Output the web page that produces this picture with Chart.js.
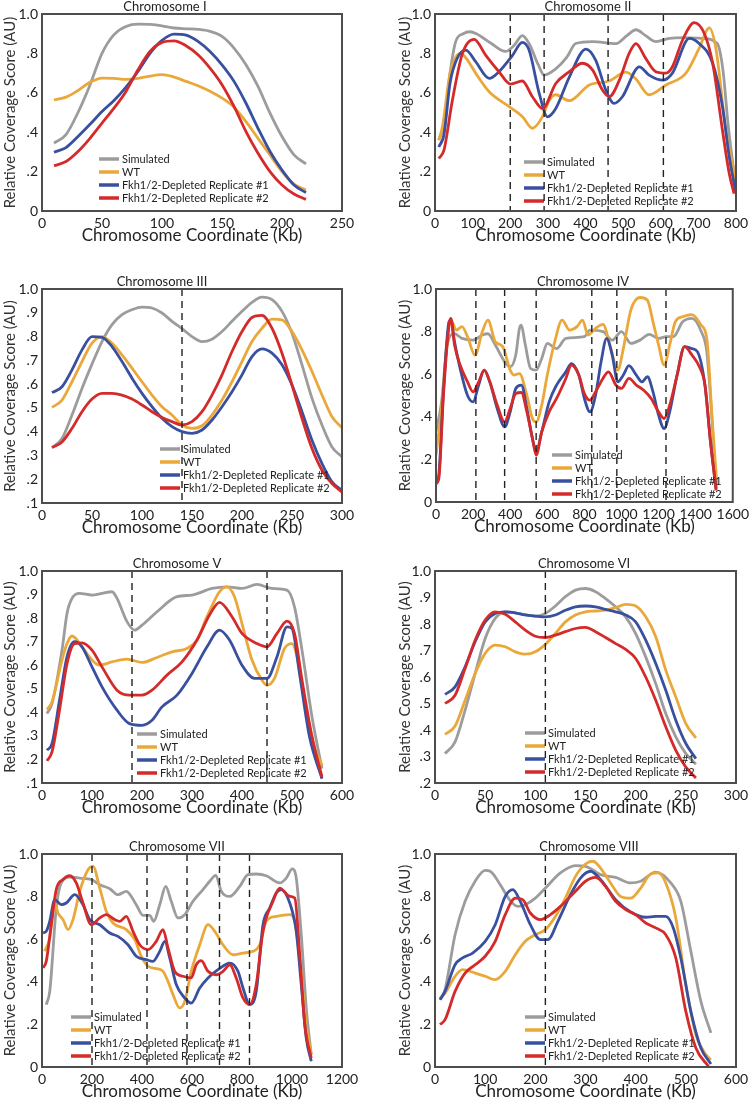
<!DOCTYPE html>
<html>
<head>
<meta charset="utf-8">
<script src="https://cdn.jsdelivr.net/npm/chart.js@4.4.1/dist/chart.umd.min.js"></script>
<style>
  body { margin: 0; background: #fff; width: 753px; height: 1101px; position: relative; overflow: hidden; }
  canvas { position: absolute; }
</style>
</head>
<body>
<script>
const seriesNames = ["Simulated", "WT", "Fkh1/2-Depleted Replicate #1", "Fkh1/2-Depleted Replicate #2"];
const seriesColors = ["#9c9c9c", "#eaa83a", "#38509f", "#d52a2a"];

// Chromosome I (10 kb bins)
const chr1Kb = [10,20,30,40,50,60,70,80,90,100,110,120,130,140,150,160,170,180,190,200,210,220];
const chr1Sim = [.344,.388,.50,.64,.80,.895,.937,.949,.947,.94,.929,.925,.922,.912,.886,.827,.742,.632,.497,.378,.285,.239];
const chr1WT = [.564,.578,.612,.653,.675,.673,.668,.673,.685,.692,.68,.658,.636,.608,.573,.527,.454,.369,.285,.20,.137,.107];
const chr1Rep1 = [.298,.322,.378,.44,.505,.561,.629,.708,.80,.866,.898,.893,.861,.81,.742,.658,.547,.42,.302,.208,.132,.093];
const chr1Rep2 = [.23,.251,.302,.369,.446,.522,.607,.717,.81,.856,.864,.839,.793,.725,.641,.531,.403,.293,.20,.132,.086,.059];
const chr1Dash = [];

// Chromosome II ([kb, score])
const chr2Sim = [[10,.36],[25,.45],[40,.70],[55,.86],[75,.90],[92,.91],[110,.90],[150,.85],[188,.81],[210,.84],[232,.89],[250,.85],[275,.74],[290,.69],[320,.72],[350,.78],[374,.85],[419,.86],[481,.85],[510,.89],[534,.92],[560,.89],[587,.86],[623,.876],[660,.88],[711,.876],[750,.85],[765,.72],[780,.42],[800,.12]];
const chr2WT = [[10,.36],[20,.43],[40,.70],[55,.78],[68,.80],[85,.77],[108,.70],[144,.605],[197,.53],[232,.48],[259,.42],[286,.48],[303,.56],[321,.59],[357,.56],[410,.64],[463,.66],[507,.705],[534,.67],[569,.59],[614,.64],[667,.70],[702,.825],[729,.93],[747,.82],[773,.41],[800,.156]];
const chr2Rep1 = [[10,.325],[24,.39],[40,.65],[59,.775],[82,.817],[108,.758],[144,.673],[170,.707],[206,.79],[232,.856],[250,.817],[277,.597],[299,.478],[321,.52],[357,.68],[401,.822],[427,.766],[454,.614],[476,.546],[498,.58],[543,.732],[569,.69],[605,.664],[631,.70],[676,.876],[702,.85],[738,.75],[764,.53],[782,.275],[800,.09]];
const chr2Rep2 = [[10,.266],[24,.31],[46,.56],[73,.80],[104,.871],[135,.79],[170,.707],[201,.644],[232,.66],[259,.58],[286,.52],[321,.647],[357,.707],[392,.75],[419,.715],[445,.614],[463,.58],[490,.664],[516,.80],[534,.85],[560,.775],[587,.707],[614,.70],[631,.732],[658,.868],[689,.956],[716,.90],[738,.75],[764,.41],[782,.19],[795,.088]];
const chr2Dash = [200, 290, 460, 607];

// Chromosome III (10 kb bins)
const chr3Kb = [10,20,30,40,50,60,70,80,90,100,110,120,130,140,150,160,170,180,190,200,210,220,230,240,250,260,270,280,290,300];
const chr3Sim = [.333,.371,.47,.582,.684,.779,.85,.892,.913,.924,.92,.899,.864,.833,.80,.779,.789,.821,.864,.906,.944,.966,.955,.906,.814,.681,.54,.428,.336,.294];
const chr3WT = [.502,.533,.61,.695,.772,.80,.772,.723,.667,.61,.554,.505,.47,.428,.414,.425,.47,.533,.61,.695,.779,.835,.873,.87,.821,.744,.653,.554,.463,.416];
const chr3Rep1 = [.564,.589,.66,.744,.80,.797,.758,.695,.625,.561,.505,.456,.421,.40,.393,.407,.449,.505,.568,.639,.716,.748,.73,.681,.596,.484,.364,.266,.189,.153];
const chr3Rep2 = [.333,.357,.414,.484,.537,.561,.561,.554,.537,.512,.484,.46,.442,.428,.442,.484,.554,.639,.737,.821,.88,.889,.835,.73,.596,.456,.329,.238,.182,.146];
const chr3Dash = [140];

// Chromosome IV
const chr4Sim = [[0,.33],[30,.47],[60,.737],[100,.79],[140,.768],[200,.76],[250,.784],[280,.79],[320,.737],[370,.658],[400,.635],[430,.69],[450,.815],[460,.83],[480,.745],[510,.627],[540,.619],[570,.674],[600,.745],[650,.72],[700,.768],[800,.776],[830,.807],[900,.80],[950,.76],[1000,.80],[1050,.745],[1100,.76],[1150,.787],[1200,.768],[1240,.776],[1280,.776],[1330,.846],[1380,.862],[1430,.80],[1460,.705],[1490,.36],[1510,.063]];
const chr4WT = [[0,.22],[30,.44],[60,.752],[80,.854],[110,.807],[140,.823],[170,.776],[210,.69],[250,.80],[280,.854],[320,.752],[360,.729],[400,.619],[420,.596],[450,.603],[490,.50],[520,.392],[540,.376],[570,.455],[600,.596],[640,.752],[680,.854],[720,.807],[760,.823],[790,.854],[820,.784],[860,.815],[900,.834],[940,.729],[980,.619],[1010,.72],[1050,.90],[1100,.96],[1140,.947],[1170,.846],[1200,.737],[1230,.643],[1260,.737],[1290,.846],[1330,.87],[1380,.88],[1430,.83],[1460,.768],[1490,.376],[1515,.078]];
const chr4Rep1 = [[0,.086],[15,.125],[40,.517],[70,.846],[80,.854],[100,.752],[130,.627],[170,.50],[200,.47],[230,.549],[260,.619],[290,.564],[330,.439],[370,.353],[400,.423],[430,.533],[460,.549],[490,.439],[520,.298],[540,.235],[570,.329],[610,.47],[650,.549],[700,.611],[730,.65],[770,.596],[800,.486],[830,.423],[860,.50],[890,.658],[920,.768],[950,.69],[980,.564],[1010,.596],[1040,.64],[1080,.596],[1110,.564],[1140,.588],[1170,.517],[1200,.408],[1230,.345],[1260,.423],[1300,.596],[1340,.729],[1380,.72],[1410,.705],[1450,.549],[1480,.282],[1510,.063]];
const chr4Rep2 = [[0,.086],[15,.11],[40,.50],[70,.83],[80,.862],[100,.737],[130,.643],[170,.564],[200,.517],[230,.564],[260,.619],[290,.564],[330,.455],[370,.376],[400,.439],[430,.509],[460,.514],[490,.423],[520,.298],[540,.22],[570,.329],[610,.423],[650,.486],[700,.58],[730,.643],[770,.596],[800,.509],[830,.478],[860,.517],[900,.58],[930,.611],[970,.549],[1000,.533],[1040,.58],[1080,.549],[1120,.525],[1160,.486],[1200,.423],[1230,.392],[1260,.455],[1300,.596],[1340,.729],[1380,.69],[1420,.635],[1450,.549],[1480,.282],[1510,.055]];
const chr4Dash = [215, 370, 540, 840, 975, 1240];

// Chromosome V
const chr5Sim = [[10,.395],[20,.437],[40,.664],[50,.82],[60,.884],[75,.905],[100,.898],[120,.905],[140,.912],[150,.884],[170,.785],[185,.749],[200,.77],[230,.827],[270,.891],[300,.898],[340,.926],[370,.933],[400,.926],[430,.943],[460,.926],[490,.919],[505,.848],[520,.664],[540,.38],[560,.161]];
const chr5WT = [[10,.412],[20,.444],[40,.622],[50,.692],[60,.724],[80,.678],[100,.622],[115,.60],[140,.614],[170,.626],[200,.612],[230,.633],[260,.657],[290,.671],[310,.707],[330,.806],[355,.912],[370,.933],[385,.891],[400,.777],[420,.622],[440,.536],[450,.515],[465,.544],[485,.671],[500,.692],[510,.636],[525,.451],[545,.253],[560,.175]];
const chr5Rep1 = [[10,.239],[20,.267],[35,.451],[50,.636],[65,.70],[80,.678],[100,.593],[120,.508],[150,.409],[175,.352],[200,.345],[220,.366],[240,.423],[270,.473],[300,.565],[330,.678],[355,.749],[375,.707],[400,.60],[425,.544],[450,.544],[470,.636],[490,.763],[500,.756],[515,.565],[535,.296],[560,.118]];
const chr5Rep2 = [[10,.194],[20,.232],[35,.409],[50,.607],[65,.692],[80,.695],[100,.664],[120,.593],[150,.494],[175,.473],[200,.473],[220,.494],[250,.558],[280,.614],[310,.707],[335,.813],[355,.867],[380,.806],[400,.735],[430,.692],[450,.678],[470,.735],[490,.787],[505,.735],[520,.537],[540,.296],[560,.126]];
const chr5Dash = [180, 450];

// Chromosome VI (10 kb bins)
const chr6Kb = [10,20,30,40,50,60,70,80,90,100,110,120,130,140,150,160,170,180,190,200,210,220,230,240,250,260];
const chr6Sim = [.311,.355,.475,.613,.745,.821,.846,.842,.834,.83,.84,.868,.903,.928,.934,.922,.896,.865,.827,.764,.676,.575,.462,.374,.311,.271];
const chr6WT = [.383,.415,.512,.613,.689,.72,.714,.695,.686,.695,.723,.764,.808,.834,.846,.849,.852,.862,.874,.868,.827,.752,.626,.525,.424,.37];
const chr6Rep1 = [.534,.563,.638,.733,.808,.84,.846,.842,.834,.83,.827,.834,.852,.865,.868,.865,.855,.846,.834,.808,.739,.651,.55,.437,.349,.292];
const chr6Rep2 = [.50,.531,.632,.739,.815,.846,.837,.808,.777,.754,.749,.758,.771,.783,.787,.771,.749,.726,.704,.67,.60,.512,.412,.323,.26,.219];
const chr6Dash = [110];

// Chromosome VII
const chr7Sim = [[17,.293],[31,.355],[57,.746],[77,.864],[111,.892],[151,.887],[197,.88],[231,.856],[271,.837],[304,.809],[337,.825],[377,.762],[404,.712],[431,.712],[447,.684],[471,.762],[495,.848],[517,.778],[544,.70],[571,.715],[604,.778],[644,.833],[671,.872],[695,.90],[717,.825],[751,.801],[791,.848],[824,.903],[857,.906],[897,.898],[951,.864],[977,.887],[1001,.93],[1017,.887],[1037,.621],[1057,.277],[1077,.058]];
const chr7WT = [[11,.543],[31,.606],[51,.77],[64,.723],[84,.692],[104,.645],[124,.692],[151,.825],[184,.926],[204,.942],[231,.84],[257,.731],[284,.676],[337,.645],[371,.598],[397,.52],[424,.473],[457,.462],[484,.449],[504,.402],[524,.34],[551,.277],[571,.308],[597,.449],[631,.574],[664,.668],[691,.637],[724,.574],[764,.527],[804,.535],[844,.543],[871,.574],[897,.684],[937,.707],[991,.715],[1011,.684],[1037,.433],[1057,.199],[1077,.058]];
const chr7Rep1 = [[4,.629],[17,.637],[31,.684],[51,.786],[77,.762],[97,.77],[131,.809],[164,.762],[191,.692],[231,.668],[271,.629],[304,.613],[344,.574],[377,.52],[417,.504],[444,.496],[471,.543],[491,.59],[511,.512],[537,.387],[571,.324],[597,.30],[631,.371],[664,.418],[704,.457],[751,.488],[784,.449],[804,.371],[831,.293],[857,.355],[884,.668],[911,.746],[937,.817],[957,.833],[991,.77],[1017,.637],[1037,.387],[1057,.136],[1077,.027]];
const chr7Rep2 = [[4,.465],[17,.496],[37,.668],[57,.833],[84,.88],[111,.898],[137,.864],[164,.77],[197,.668],[231,.70],[257,.715],[291,.692],[311,.684],[337,.707],[364,.637],[391,.574],[424,.551],[457,.59],[484,.645],[504,.559],[531,.449],[564,.426],[597,.418],[617,.48],[637,.499],[664,.449],[697,.433],[724,.449],[751,.48],[777,.418],[804,.324],[831,.293],[857,.387],[884,.637],[924,.778],[951,.84],[991,.801],[1011,.793],[1031,.527],[1051,.199],[1077,.042]];
const chr7Dash = [200, 420, 580, 710, 830];

// Chromosome VIII
const chr8Sim = [[10,.316],[20,.363],[40,.621],[60,.778],[80,.872],[100,.923],[110,.919],[130,.856],[150,.781],[165,.754],[180,.762],[200,.793],[220,.84],[250,.911],[280,.945],[300,.942],[330,.903],[360,.89],[390,.864],[410,.872],[440,.915],[470,.864],[490,.778],[510,.543],[530,.308],[550,.16]];
const chr8WT = [[10,.324],[20,.347],[40,.426],[55,.457],[80,.441],[100,.426],[120,.41],[140,.449],[160,.527],[180,.59],[200,.621],[220,.645],[240,.707],[260,.793],[280,.895],[300,.953],[315,.966],[330,.934],[350,.864],[370,.801],[390,.793],[410,.84],[430,.906],[445,.911],[460,.864],[480,.70],[500,.387],[520,.152],[540,.058],[550,.034]];
const chr8Rep1 = [[10,.316],[20,.355],[40,.48],[55,.512],[75,.535],[100,.59],[120,.668],[140,.801],[155,.833],[170,.778],[190,.668],[210,.598],[225,.598],[245,.684],[270,.809],[290,.887],[310,.919],[330,.88],[360,.786],[390,.728],[420,.703],[440,.707],[460,.707],[475,.653],[490,.512],[510,.261],[530,.089],[550,.014]];
const chr8Rep2 = [[10,.199],[20,.222],[40,.355],[60,.441],[80,.48],[100,.52],[120,.59],[140,.715],[160,.793],[175,.786],[190,.723],[210,.692],[230,.715],[250,.754],[280,.825],[300,.872],[320,.89],[340,.848],[360,.778],[380,.739],[400,.715],[420,.676],[440,.653],[460,.621],[480,.512],[500,.261],[520,.089],[545,.003]];
const chr8Dash = [220];

// box = plot area in page pixels [left, top, right, bottom]
const panels = [
  { title: "Chromosome I", kb: chr1Kb, series: [chr1Sim, chr1WT, chr1Rep1, chr1Rep2], dashes: chr1Dash, xMax: 250, xStep: 50, yMin: 0, yStep: .2, box: [42, 14, 342, 211], titleX: 165, legend: [99, 159] },
  { title: "Chromosome II", series: [chr2Sim, chr2WT, chr2Rep1, chr2Rep2], dashes: chr2Dash, xMax: 800, xStep: 100, yMin: 0, yStep: .2, box: [435, 14, 736, 211], titleX: 588, legend: [524, 162] },
  { title: "Chromosome III", kb: chr3Kb, series: [chr3Sim, chr3WT, chr3Rep1, chr3Rep2], dashes: chr3Dash, xMax: 300, xStep: 50, yMin: .1, yStep: .1, box: [42, 289, 342, 503], titleX: 162, legend: [160, 449] },
  { title: "Chromosome IV", series: [chr4Sim, chr4WT, chr4Rep1, chr4Rep2], dashes: chr4Dash, xMax: 1600, xStep: 200, yMin: 0, yStep: .2, box: [436, 289, 736, 502], titleX: 583, legend: [552, 455] },
  { title: "Chromosome V", series: [chr5Sim, chr5WT, chr5Rep1, chr5Rep2], dashes: chr5Dash, xMax: 600, xStep: 100, yMin: .1, yStep: .1, box: [42, 571, 342, 783], titleX: 177, legend: [137, 734] },
  { title: "Chromosome VI", kb: chr6Kb, series: [chr6Sim, chr6WT, chr6Rep1, chr6Rep2], dashes: chr6Dash, xMax: 300, xStep: 50, yMin: .2, yStep: .1, box: [435, 571, 736, 783], titleX: 584, legend: [525, 733] },
  { title: "Chromosome VII", series: [chr7Sim, chr7WT, chr7Rep1, chr7Rep2], dashes: chr7Dash, xMax: 1200, xStep: 200, yMin: 0, yStep: .2, box: [42, 854, 342, 1067], titleX: 177, legend: [71, 1017] },
  { title: "Chromosome VIII", series: [chr8Sim, chr8WT, chr8Rep1, chr8Rep2], dashes: chr8Dash, xMax: 600, xStep: 100, yMin: 0, yStep: .2, box: [435, 854, 736, 1067], titleX: 589, legend: [525, 1017] }
];

const FONT = "Lato, 'Open Sans', sans-serif";

function fmtY(v){
  if (Math.abs(v) < 1e-9) return "0";
  if (v > 0.999) return "1.0";
  return v.toFixed(1).replace(/^0/, "");
}

const decorPlugin = {
  id: "decor",
  afterDatasetsDraw(chart){
    const p = chart.options.plugins.decor.panel;
    const off = chart.options.plugins.decor.offset;
    const ctx = chart.ctx;
    const area = chart.chartArea;
    const xs = chart.scales.x;
    ctx.save();
    // legend
    ctx.font = "11px " + FONT;
    ctx.textBaseline = "middle";
    ctx.textAlign = "left";
    seriesNames.forEach((name, i) => {
      const lx = p.legend[0] - off[0];
      const ly = p.legend[1] - off[1] + i * 13;
      ctx.strokeStyle = seriesColors[i];
      ctx.lineWidth = 3.5;
      ctx.beginPath();
      ctx.moveTo(lx, ly);
      ctx.lineTo(lx + 20, ly);
      ctx.stroke();
      ctx.fillStyle = "#222";
      ctx.fillText(name, lx + 23, ly + 0.5);
    });
    // dashed boundaries
    ctx.strokeStyle = "#222";
    ctx.lineWidth = 1.4;
    ctx.setLineDash([7, 5]);
    p.dashes.forEach(kb => {
      const x = xs.getPixelForValue(kb);
      ctx.beginPath();
      ctx.moveTo(x, area.top);
      ctx.lineTo(x, area.bottom);
      ctx.stroke();
    });
    ctx.setLineDash([]);
    // frame
    ctx.strokeStyle = "#4d4d4d";
    ctx.lineWidth = 2;
    ctx.strokeRect(area.left, area.top, area.right - area.left, area.bottom - area.top);
    // panel title
    ctx.fillStyle = "#222";
    ctx.font = "13px " + FONT;
    ctx.textAlign = "center";
    ctx.textBaseline = "alphabetic";
    ctx.fillText(p.title, p.titleX - off[0], area.top - 3);
    ctx.restore();
  }
};

panels.forEach(p => {
  const [L, T, R, B] = p.box;
  const isLeft = L < 376;
  const cLeft = isLeft ? 0 : 395;
  const cWidth = isLeft ? 376 : 358;
  const cTop = T - 14;
  const cHeight = B + 37 - cTop;
  const cv = document.createElement("canvas");
  cv.width = cWidth;
  cv.height = cHeight;
  cv.style.left = cLeft + "px";
  cv.style.top = cTop + "px";
  document.body.appendChild(cv);

  const datasets = p.series.map((s, i) => ({
    label: seriesNames[i],
    data: p.kb ? s.map((v, j) => ({ x: p.kb[j], y: v })) : s.map(([x, y]) => ({ x, y })),
    borderColor: seriesColors[i],
    borderWidth: 2.8,
    pointRadius: 0,
    fill: false,
    cubicInterpolationMode: "monotone",
    order: 3 - i
  }));

  new Chart(cv, {
    type: "line",
    data: { datasets },
    options: {
      responsive: false,
      animation: false,
      events: [],
      layout: { padding: { top: T - cTop, right: cLeft + cWidth - R, left: 0, bottom: 0 } },
      plugins: {
        legend: { display: false },
        tooltip: { enabled: false },
        decor: { panel: p, offset: [cLeft, cTop] }
      },
      scales: {
        x: {
          type: "linear",
          min: 0, max: p.xMax,
          grid: { display: false, drawTicks: false, tickLength: 0 },
          border: { display: false },
          ticks: { stepSize: p.xStep, autoSkip: false, padding: 4, color: "#222", font: { family: FONT, size: 14 }, maxRotation: 0, callback: v => String(v) },
          title: { display: true, text: "Chromosome Coordinate (Kb)", color: "#222", font: { family: FONT, size: 17 }, padding: { top: 0, bottom: 2 } },
          afterFit(scale){ scale.height = cTop + cHeight - B; }
        },
        y: {
          min: p.yMin, max: 1,
          grid: { display: false, drawTicks: false, tickLength: 0 },
          border: { display: false },
          ticks: { stepSize: p.yStep, autoSkip: false, padding: 4, color: "#222", font: { family: FONT, size: 14 }, callback: fmtY },
          title: { display: true, text: "Relative Coverage Score (AU)", color: "#333", font: { family: FONT, size: 15 }, padding: { top: 1, bottom: 0 } },
          afterFit(scale){ scale.width = L - cLeft; }
        }
      }
    },
    plugins: [decorPlugin]
  });
});
</script>
</body>
</html>
